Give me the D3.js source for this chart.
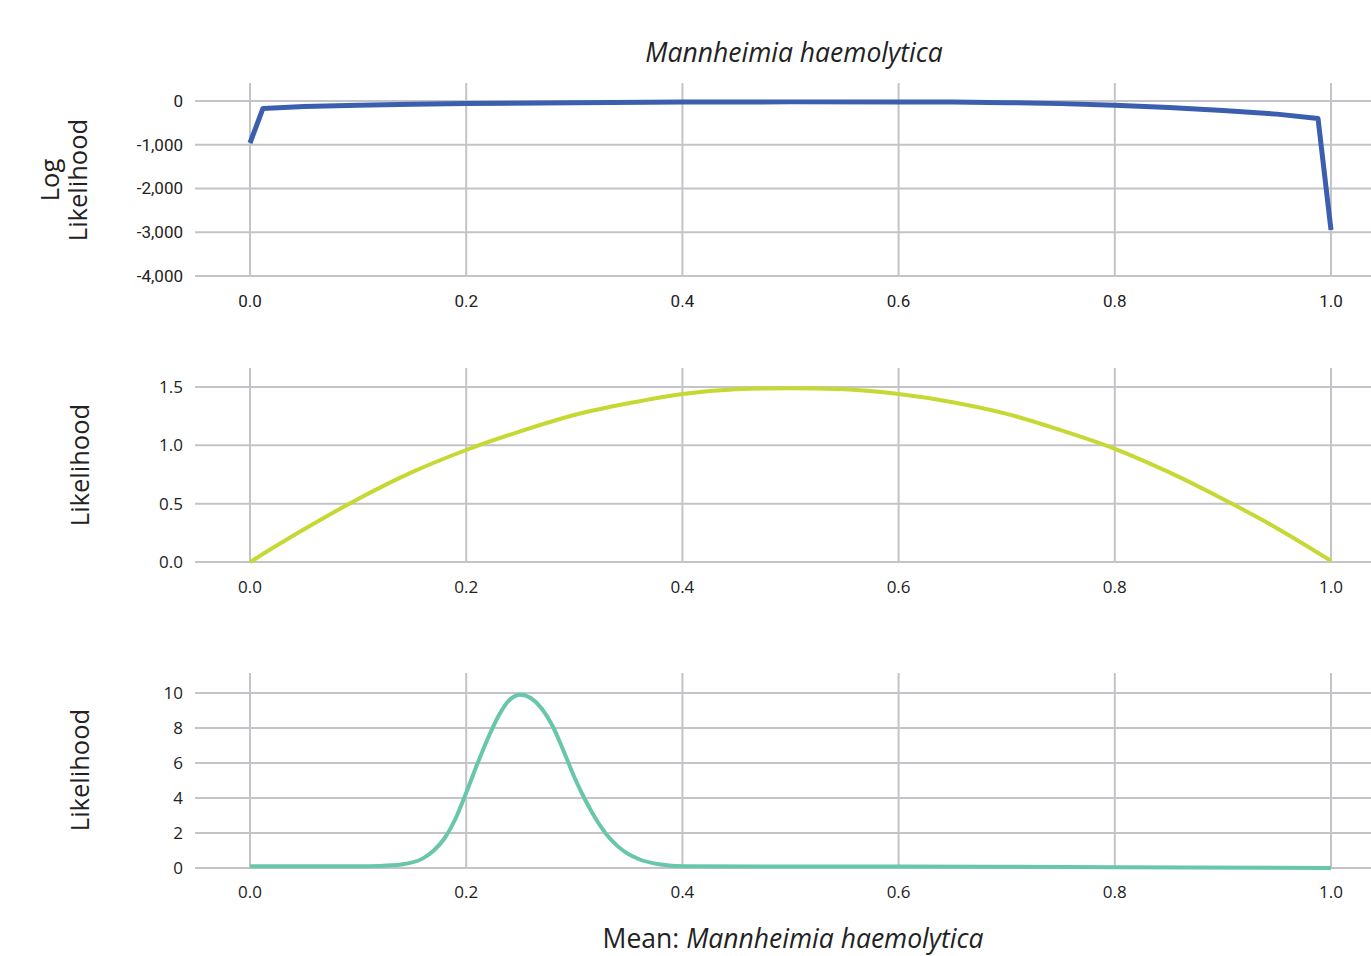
<!DOCTYPE html>
<html>
<head>
<meta charset="utf-8">
<script src="https://cdn.jsdelivr.net/npm/d3@7"></script>
<style>
  body { margin: 0; background: #fff; }
  text { font-family: "Open Sans", sans-serif; fill: #222; }
</style>
</head>
<body>
<script>
var w = 1371;
var h = 956;

// x ticks shared by all three panels
var xTicks = [0.0, 0.2, 0.4, 0.6, 0.8, 1.0];

// panel 1: log likelihood
var logX = [0.0, 0.012, 0.05, 0.1, 0.15, 0.2, 0.3, 0.4, 0.5, 0.6, 0.65, 0.7, 0.75, 0.8, 0.85, 0.9, 0.95, 0.988, 1.0];
var logY = [-960, -170, -125, -95, -75, -58, -38, -25, -20, -20, -22, -38, -60, -95, -150, -215, -300, -400, -2950];
var logTicks = [0, -1000, -2000, -3000, -4000];

// panel 2: likelihood (prior)
var likX = [0.0, 0.05, 0.1, 0.15, 0.2, 0.25, 0.3, 0.35, 0.4, 0.45, 0.5, 0.55, 0.6, 0.65, 0.7, 0.75, 0.8, 0.85, 0.9, 0.95, 1.0];
var likY = [0.0, 0.28, 0.54, 0.77, 0.96, 1.12, 1.26, 1.36, 1.44, 1.48, 1.49, 1.48, 1.44, 1.37, 1.27, 1.13, 0.97, 0.77, 0.54, 0.29, 0.01];
var likTicks = [0.0, 0.5, 1.0, 1.5];

// panel 3: likelihood (posterior)
var postX = [0.0, 0.05, 0.1, 0.12, 0.14, 0.16, 0.17, 0.18, 0.19, 0.2, 0.21, 0.22, 0.23, 0.24, 0.25, 0.26, 0.27, 0.28, 0.29, 0.3, 0.31, 0.32, 0.33, 0.34, 0.35, 0.36, 0.38, 0.4, 0.6, 0.8, 1.0];
var postY = [0.1, 0.1, 0.1, 0.12, 0.2, 0.55, 1.0, 1.7, 2.8, 4.3, 5.9, 7.4, 8.7, 9.6, 9.9, 9.7, 9.1, 8.1, 6.7, 5.2, 3.9, 2.8, 1.9, 1.25, 0.8, 0.5, 0.2, 0.1, 0.08, 0.05, 0.0];
var postTicks = [0, 2, 4, 6, 8, 10];

var svg = d3.select("body").append("svg").attr("width", w).attr("height", h);

var xScale = d3.scaleLinear().domain([0, 1]).range([250, 1331]);

var panels = [
  { xs: logX, ys: logY, ticks: logTicks, dom: [-4000, 0], range: [276, 101], top: 83, labelY: 301,
    color: "#3b5fae", width: 5, curve: d3.curveLinear, fmt: d => d3.format(",")(d).replace("\u2212", "-"),
    label: ["Log", "Likelihood"], labelCY: 180, font: "Roboto" },
  { xs: likX, ys: likY, ticks: likTicks, dom: [0, 1.5], range: [562, 387], top: 368, labelY: 587,
    color: "#c6d833", width: 4, curve: d3.curveMonotoneX, fmt: d3.format(".1f"), label: ["Likelihood"], labelCY: 465,
    font: "Open Sans" },
  { xs: postX, ys: postY, ticks: postTicks, dom: [0, 10], range: [868, 693], top: 673, labelY: 892,
    color: "#68c6aa", width: 4, curve: d3.curveMonotoneX, fmt: d3.format("d"), label: ["Likelihood"], labelCY: 770,
    font: "Open Sans" }
];

panels.forEach(function (p) {
  var yScale = d3.scaleLinear().domain(p.dom).range(p.range);
  var g = svg.append("g");

  //horizontal grid lines
  g.selectAll(".hgrid")
    .data(p.ticks).enter()
    .append("line")
    .attr("x1", 195).attr("x2", w)
    .attr("y1", d => yScale(d)).attr("y2", d => yScale(d))
    .attr("stroke", "#c4c4c8").attr("stroke-width", 2);

  //vertical grid lines
  g.selectAll(".vgrid")
    .data(xTicks).enter()
    .append("line")
    .attr("x1", d => xScale(d)).attr("x2", d => xScale(d))
    .attr("y1", p.top).attr("y2", p.range[0])
    .attr("stroke", "#c4c4c8").attr("stroke-width", 2);

  //y tick labels
  g.selectAll(".ylab")
    .data(p.ticks).enter()
    .append("text")
    .attr("x", 183)
    .attr("y", d => yScale(d))
    .attr("dy", "0.35em")
    .attr("text-anchor", "end")
    .style("font-family", p.font)
    .style("font-size", "17px")
    .text(d => p.fmt(d));

  //x tick labels
  g.selectAll(".xlab")
    .data(xTicks).enter()
    .append("text")
    .attr("x", d => xScale(d))
    .attr("y", p.labelY)
    .attr("dy", "0.35em")
    .attr("text-anchor", "middle")
    .style("font-family", p.font)
    .style("font-size", "17px")
    .text(d => d3.format(".1f")(d));

  //the curve
  var line = d3.line()
    .x((d, i) => xScale(p.xs[i]))
    .y(d => yScale(d))
    .curve(p.curve);

  g.append("path")
    .datum(p.ys)
    .attr("d", line)
    .attr("fill", "none")
    .attr("stroke", p.color)
    .attr("stroke-width", p.width)
    .attr("stroke-linejoin", "round");

  //y axis title
  var t = g.append("text")
    .attr("transform", "translate(" + (p.label.length > 1 ? 64 : 80) + "," + p.labelCY + ") rotate(-90)")
    .attr("text-anchor", "middle")
    .style("font-size", "25.5px");
  p.label.forEach(function (s, i) {
    t.append("tspan")
      .attr("x", 0)
      .attr("dy", i === 0 ? (p.label.length > 1 ? "-0.2em" : "0.35em") : "1.1em")
      .text(s);
  });
});

//title
svg.append("text")
  .attr("x", 794).attr("y", 62)
  .attr("text-anchor", "middle")
  .style("font-size", "26.5px")
  .style("font-style", "italic")
  .text("Mannheimia haemolytica");

//x axis title
var xt = svg.append("text")
  .attr("x", 793).attr("y", 948)
  .attr("text-anchor", "middle")
  .style("font-size", "26.5px");
xt.append("tspan").text("Mean: ");
xt.append("tspan").style("font-style", "italic").text("Mannheimia haemolytica");
</script>
</body>
</html>
